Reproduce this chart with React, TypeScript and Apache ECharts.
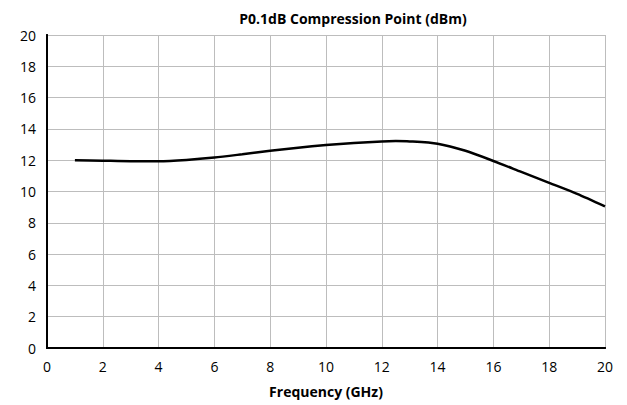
import React, { useEffect, useRef } from "react";
import * as echarts from "echarts";

const freqGHz = [1, 2, 3, 4, 5, 6, 7, 8, 9, 10, 11, 12, 12.5, 13, 14, 15, 16, 17, 18, 19, 20];
const p01dB = [12.0, 11.97, 11.94, 11.94, 12.02, 12.17, 12.38, 12.6, 12.8, 12.97, 13.1, 13.2, 13.22, 13.2, 13.05, 12.6, 11.95, 11.25, 10.55, 9.85, 9.05];
const titleText = "P0.1dB Compression Point (dBm)";
const xName = "Frequency (GHz)";

export default function App() {
  const ref = useRef<HTMLDivElement>(null);
  useEffect(() => {
    if (!ref.current) return;
    const chart = echarts.init(ref.current, null, { renderer: "svg" });
    const font = "'Open Sans', 'Liberation Sans', sans-serif";
    const lineAxis = { show: true, lineStyle: { color: "#000", width: 2 } };
    chart.setOption({
      animation: false,
      backgroundColor: "#fff",
      textStyle: { fontFamily: font },
      title: {
        text: titleText,
        left: 348,
        textAlign: "center",
        top: 6,
        textStyle: { fontSize: 14, fontWeight: "bold", color: "#000", fontFamily: font },
      },
      grid: { left: 47, right: 22, top: 35, bottom: 57 },
      xAxis: [
        {
          type: "value",
          min: 0,
          max: 20,
          interval: 2,
          name: xName,
          nameLocation: "middle",
          nameGap: 36,
          nameTextStyle: { fontSize: 14, fontWeight: "bold", color: "#000", fontFamily: font },
          axisLine: lineAxis,
          axisTick: { show: false },
          axisLabel: { fontSize: 14, color: "#000", margin: 11, fontFamily: font },
          splitLine: { show: true, lineStyle: { color: "#bdbdbd", width: 1 } },
        },
        {
          type: "value",
          position: "top",
          min: 0,
          max: 20,
          axisLine: lineAxis,
          axisTick: { show: false },
          axisLabel: { show: false },
          splitLine: { show: false },
        },
      ],
      yAxis: [
        {
          type: "value",
          min: 0,
          max: 20,
          interval: 2,
          axisLine: lineAxis,
          axisTick: { show: false },
          axisLabel: { fontSize: 14, color: "#000", margin: 11, fontFamily: font },
          splitLine: { show: true, lineStyle: { color: "#bdbdbd", width: 1 } },
        },
        {
          type: "value",
          position: "right",
          min: 0,
          max: 20,
          axisLine: lineAxis,
          axisTick: { show: false },
          axisLabel: { show: false },
          splitLine: { show: false },
        },
      ],
      series: [
        {
          type: "line",
          data: freqGHz.map((f, i) => [f, p01dB[i]]),
          smooth: 0.25,
          showSymbol: false,
          lineStyle: { color: "#000", width: 2.5 },
        },
      ],
    });
    return () => chart.dispose();
  }, []);
  return <div ref={ref} style={{ width: 627, height: 405, position: "absolute", left: 0, top: 0 }} />;
}
